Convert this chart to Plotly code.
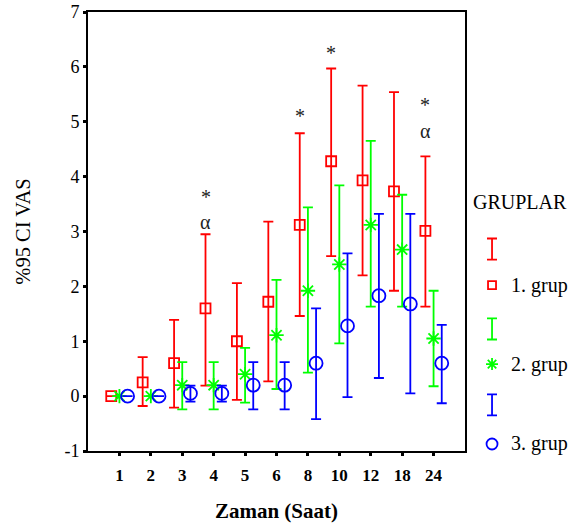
import plotly.graph_objects as go

categories = ["1", "2", "3", "4", "5", "6", "8", "10", "12", "18", "24"]
y_ticks = [-1, 0, 1, 2, 3, 4, 5, 6, 7]
y_ticklabels = ["-1", "0", "1", "2", "3", "4", "5", "6", "7"]

g1_mean = [0.0, 0.25, 0.60, 1.60, 1.00, 1.72, 3.12, 4.28, 3.93, 3.73, 3.01]
g1_up   = [0.0, 0.71, 1.39, 2.95, 2.06, 3.18, 4.79, 5.97, 5.66, 5.54, 4.37]
g1_lo   = [0.0, -0.18, -0.21, 0.19, -0.07, 0.27, 1.46, 2.55, 2.20, 1.92, 1.63]

g2_mean = [0.0, 0.0, 0.20, 0.20, 0.40, 1.11, 1.92, 2.40, 3.12, 2.67, 1.05]
g2_up   = [0.0, 0.0, 0.62, 0.62, 0.88, 2.12, 3.44, 3.84, 4.65, 3.67, 1.92]
g2_lo   = [0.0, 0.0, -0.24, -0.24, -0.12, 0.13, 0.43, 0.96, 1.63, 1.63, 0.18]

g3_mean = [0.0, 0.0, 0.05, 0.05, 0.20, 0.20, 0.60, 1.28, 1.83, 1.68, 0.60]
g3_up   = [0.0, 0.0, 0.19, 0.19, 0.62, 0.62, 1.60, 2.60, 3.32, 3.32, 1.30]
g3_lo   = [0.0, 0.0, -0.10, -0.10, -0.24, -0.24, -0.42, -0.02, 0.33, 0.05, -0.13]

group_names = ["1. grup", "2. grup", "3. grup"]
group_colors = ["#ff0000", "#00ff00", "#0000ff"]
group_symbols = ["square-open", "asterisk-open", "circle-open"]
group_sizes = [10, 12, 13]
group_offsets = [-0.26, 0.0, 0.26]

# significance annotations
sig_cat = [3, 3, 6, 7, 10, 10]
sig_y = [3.63, 3.18, 5.10, 6.26, 5.30, 4.84]
sig_text = ["*", "α", "*", "*", "*", "α"]

FONT = "Liberation Serif, Times New Roman, serif"

fig = go.Figure()
groups = [(g1_mean, g1_up, g1_lo), (g2_mean, g2_up, g2_lo), (g3_mean, g3_up, g3_lo)]
for gi, (m, up, lo) in enumerate(groups):
    xs = [i + group_offsets[gi] for i in range(len(categories))]
    fig.add_trace(go.Scatter(
        x=xs, y=m, mode="markers", name=group_names[gi], showlegend=False,
        marker=dict(symbol=group_symbols[gi], size=group_sizes[gi],
                    color=group_colors[gi], line=dict(width=1.8, color=group_colors[gi])),
        error_y=dict(type="data", symmetric=False,
                     array=[u - v for u, v in zip(up, m)],
                     arrayminus=[v - l for v, l in zip(m, lo)],
                     color=group_colors[gi], thickness=1.8, width=5),
    ))

# legend drawn on a helper axis
leg_x = 0.205
leg_bar_y = [0.46, 0.278, 0.105]
leg_mark_y = [0.378, 0.198, 0.016]
for gi in range(3):
    fig.add_trace(go.Scatter(
        x=[leg_x], y=[leg_bar_y[gi]], xaxis="x2", yaxis="y2", mode="markers",
        showlegend=False, hoverinfo="skip",
        marker=dict(size=1, color="rgba(0,0,0,0)"),
        error_y=dict(type="constant", value=0.024, color=group_colors[gi], thickness=1.8, width=5),
    ))
    fig.add_trace(go.Scatter(
        x=[leg_x], y=[leg_mark_y[gi]], xaxis="x2", yaxis="y2", mode="markers",
        showlegend=False, hoverinfo="skip",
        marker=dict(symbol=group_symbols[gi], size=group_sizes[gi] - 2,
                    color=group_colors[gi], line=dict(width=1.8, color=group_colors[gi])),
    ))
    fig.add_annotation(x=0.37, y=leg_mark_y[gi], xref="x2", yref="y2", text=group_names[gi],
                       showarrow=False, xanchor="left", yanchor="middle",
                       font=dict(family=FONT, size=20, color="black"))
fig.add_annotation(x=0.0, y=0.567, xref="x2", yref="y2", text="GRUPLAR", showarrow=False,
                   xanchor="left", yanchor="middle", font=dict(family=FONT, size=20, color="black"))

for c, y, t in zip(sig_cat, sig_y, sig_text):
    fig.add_annotation(x=c - 0.26, y=y, text=t, showarrow=False, xanchor="center", yanchor="middle",
                       font=dict(family=FONT, size=20, color="#222222"))

fig.update_layout(
    width=573, height=525,
    margin=dict(l=88, r=0, t=12, b=74),
    paper_bgcolor="white", plot_bgcolor="white",
    font=dict(family=FONT, color="black"),
    xaxis=dict(domain=[0, 0.7773], range=[-1, 11], tickmode="array",
               tickvals=list(range(len(categories))), ticktext=["<b>%s</b>" % c for c in categories],
               ticks="outside", ticklen=3, tickwidth=3, tickcolor="black", ticklabelstandoff=5,
               showline=True, linecolor="black", linewidth=2, mirror=True,
               showgrid=False, zeroline=False, tickfont=dict(family=FONT, size=17),
               title=dict(text="<b>Zaman (Saat)</b>", font=dict(family=FONT, size=21), standoff=19)),
    yaxis=dict(range=[-1, 7], tickmode="array", tickvals=y_ticks, ticktext=y_ticklabels,
               ticks="outside", ticklen=3, tickwidth=3, tickcolor="black",
               showline=True, linecolor="black", linewidth=2, mirror=True,
               showgrid=False, zeroline=False, tickfont=dict(family=FONT, size=18),
               title=dict(text="%95 CI VAS", font=dict(family=FONT, size=20.5), standoff=28)),
    xaxis2=dict(domain=[0.79, 1], range=[0, 1], visible=False, fixedrange=True),
    yaxis2=dict(domain=[0, 1], range=[0, 1], visible=False, anchor="x2", fixedrange=True),
)

fig.write_html("out.html", config={"displayModeBar": False},
               post_script="document.body.style.margin='0';")
